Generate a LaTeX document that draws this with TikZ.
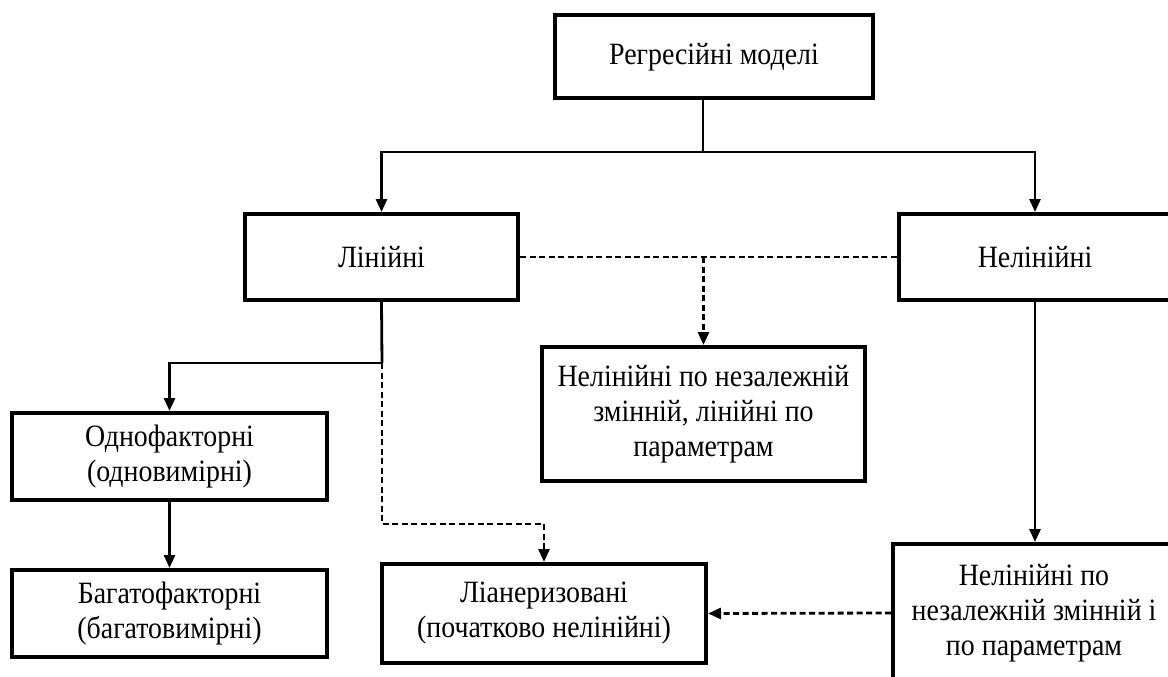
\documentclass[tikz,border=0pt]{standalone}
\usepackage{fontspec}
\setmainfont{Liberation Serif}[FakeStretch=0.9]
\usetikzlibrary{arrows.meta}
\begin{document}
\begin{tikzpicture}[x=1pt,y=-1pt,
  box/.style={draw, line width=4pt, align=center, inner sep=0pt, font=\fontsize{31}{35}\selectfont},
  conn/.style={line width=2.8pt},
  arr/.style={conn,-{Triangle[length=13pt,width=11pt]}},
  dconn/.style={conn, dash pattern=on 6pt off 3.5pt},
  darr/.style={dconn,-{Triangle[length=13pt,width=11pt]}}]
\clip (0,0) rectangle (1168,677);
\fill[white] (0,0) rectangle (1168,677);
\node[box, minimum width=318pt, minimum height=83pt] (top) at (714,57) {Регресійні моделі};
\node[box, minimum width=273pt, minimum height=86pt] (lin) at (381.5,257) {Лінійні};
\node[box, minimum width=272pt, minimum height=86pt] (nelin) at (1035,257) {Нелінійні};
\node[box, minimum width=323pt, minimum height=134pt] (mid) at (703.5,414) {Нелінійні по незалежній\\змінній, лінійні по\\параметрам};
\node[box, minimum width=315pt, minimum height=87pt] (odno) at (169.5,456.5) {Однофакторні\\(одновимірні)};
\node[box, minimum width=315pt, minimum height=87pt] (bagato) at (169.5,613.5) {Багатофакторні\\(багатовимірні)};
\node[box, minimum width=324pt, minimum height=99pt] (lian) at (544,613.5) {Ліанеризовані\\(початково нелінійні)};
\node[box, minimum width=282pt, minimum height=138pt] (nelin2) at (1034,613) {Нелінійні по\\незалежній змінній і\\по параметрам};
\coordinate (jt) at (703,152);
\coordinate (jl) at (382,363);
\coordinate (jd) at (382,524);
\draw[conn] (top.south -| jt) -- (jt);
\draw[arr] (jt) -| (lin.north);
\draw[arr] (jt) -| (nelin.north);
\draw[dconn] (lin.east) -- (nelin.west);
\draw[darr] (lin.east -| mid.north) -- (mid.north);
\draw[conn] (lin.south) -- (jl);
\draw[arr] (jl) -| (odno.north);
\draw[darr] (jl) -- (jd) -| (lian.north);
\draw[arr] (odno.south) -- (bagato.north);
\draw[arr] (nelin.south) -- (nelin.south |- nelin2.north);
\draw[darr] (nelin2.west) -- (lian.east);
\end{tikzpicture}
\end{document}
